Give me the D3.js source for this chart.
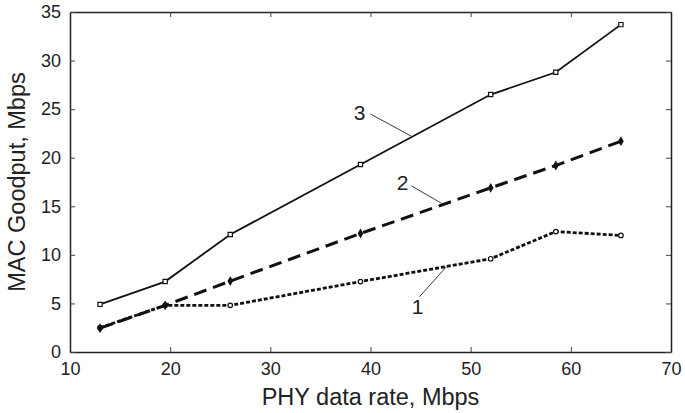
<!DOCTYPE html>
<html>
<head>
<meta charset="utf-8">
<script src="https://cdn.jsdelivr.net/npm/d3@7"></script>
<style>
  body { margin: 0; background: #fff; }
  text { font-family: "Liberation Sans", Arial, sans-serif; fill: #222; }
</style>
</head>
<body>
<svg id="chart" width="685" height="413"></svg>
<script>
const rates = [13, 19.5, 26, 39, 52, 58.5, 65];
const goodput1 = [2.5, 4.8, 4.8, 7.25, 9.6, 12.4, 12.0];
const goodput2 = [2.45, 4.8, 7.3, 12.2, 16.9, 19.2, 21.7];
const goodput3 = [4.9, 7.25, 12.1, 19.3, 26.5, 28.8, 33.7];
const xTicks = [10, 20, 30, 40, 50, 60, 70];
const yTicks = [0, 5, 10, 15, 20, 25, 30, 35];

const svg = d3.select("#chart");
const margin = { left: 70, top: 12, right: 14, bottom: 61 };
const width = 685 - margin.left - margin.right;
const height = 413 - margin.top - margin.bottom;

const x = d3.scaleLinear().domain([10, 70]).range([0, width]);
const y = d3.scaleLinear().domain([0, 35]).range([height, 0]);

const g = svg.append("g").attr("transform", `translate(${margin.left},${margin.top})`);

// axes, ticks pointing inward like matlab
const bottomAxis = g.append("g").attr("transform", `translate(0,${height})`)
  .call(d3.axisBottom(x).tickValues(xTicks).tickSizeInner(-5).tickSizeOuter(0).tickPadding(10));
const topAxis = g.append("g")
  .call(d3.axisTop(x).tickValues(xTicks).tickSizeInner(-5).tickSizeOuter(0).tickFormat(""));
const leftAxis = g.append("g")
  .call(d3.axisLeft(y).tickValues(yTicks).tickSizeInner(-5).tickSizeOuter(0).tickPadding(9));
const rightAxis = g.append("g").attr("transform", `translate(${width},0)`)
  .call(d3.axisRight(y).tickValues(yTicks).tickSizeInner(-5).tickSizeOuter(0).tickFormat(""));

[bottomAxis, topAxis, leftAxis, rightAxis].forEach((a) => {
  a.select(".domain").attr("stroke", "#222").attr("stroke-width", 1.5);
  a.selectAll(".tick line").attr("stroke", "#444").attr("stroke-width", 1);
  a.selectAll("text").style("font-size", "18px").attr("fill", "#222");
});

const line = d3.line().x((d) => x(d[0])).y((d) => y(d[1]));

const series = [
  { vals: goodput1, dash: "4,2", w: 2.8, marker: "circle" },
  { vals: goodput2, dash: "13,7", w: 3, marker: "diamond" },
  { vals: goodput3, dash: null, w: 1.8, marker: "square" },
];

series.forEach((s) => {
  const pts = rates.map((r, i) => [r, s.vals[i]]);
  g.append("path")
    .datum(pts)
    .attr("fill", "none")
    .attr("stroke", "#111")
    .attr("stroke-width", s.w)
    .attr("stroke-dasharray", s.dash)
    .attr("d", line);

  const sym = s.marker === "square" ? d3.symbolSquare
    : s.marker === "diamond" ? d3.symbolDiamond : d3.symbolCircle;
  const size = s.marker === "square" ? 18 : s.marker === "diamond" ? 16 : 16;
  g.selectAll(null)
    .data(pts)
    .enter()
    .append("path")
    .attr("transform", (d) => `translate(${x(d[0])},${y(d[1])})`)
    .attr("d", d3.symbol().type(sym).size(size))
    .attr("fill", s.marker === "diamond" ? "#111" : "#fff")
    .attr("stroke", "#111")
    .attr("stroke-width", 1.2);
});

// curve labels with leader lines
const notes = [
  { label: "3", tx: 38.9, ty: 24.6, from: [40.0, 24.5], to: [44.1, 22.2] },
  { label: "2", tx: 43.2, ty: 17.4, from: [44.1, 17.1], to: [47.1, 15.3] },
  { label: "1", tx: 44.7, ty: 4.7, from: [44.9, 5.7], to: [47.6, 8.8] },
];
notes.forEach((n) => {
  g.append("line")
    .attr("x1", x(n.from[0])).attr("y1", y(n.from[1]))
    .attr("x2", x(n.to[0])).attr("y2", y(n.to[1]))
    .attr("stroke", "#222").attr("stroke-width", 0.9);
  g.append("text")
    .attr("x", x(n.tx)).attr("y", y(n.ty))
    .attr("text-anchor", "middle")
    .attr("dy", "0.35em")
    .style("font-size", "21px")
    .text(n.label);
});

svg.append("text")
  .attr("x", margin.left + width / 2)
  .attr("y", 405)
  .attr("text-anchor", "middle")
  .style("font-size", "23.5px")
  .text("PHY data rate, Mbps");

svg.append("text")
  .attr("transform", `translate(25,${margin.top + height / 2}) rotate(-90)`)
  .attr("text-anchor", "middle")
  .style("font-size", "23.5px")
  .text("MAC Goodput, Mbps");
</script>
</body>
</html>
